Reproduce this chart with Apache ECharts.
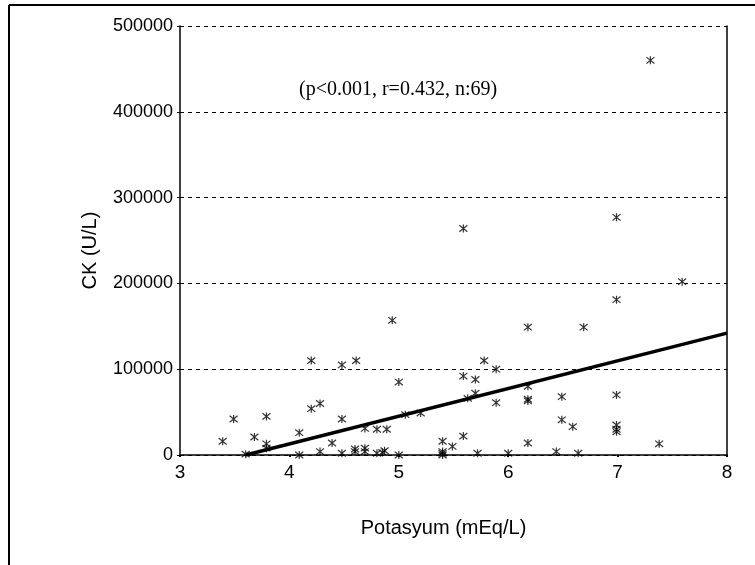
<!DOCTYPE html>
<html>
<head>
<meta charset="utf-8">
<script src="https://cdn.jsdelivr.net/npm/echarts@6/dist/echarts.min.js"></script>
<style>
html,body{margin:0;padding:0;background:#fff;}
#chart{width:755px;height:565px;}
</style>
</head>
<body>
<div id="chart"></div>
<script>
// Potassium (mEq/L) values
var potassium = [
  4.20, 4.48, 4.61, 5.00, 5.78, 5.89, 5.59, 5.70, 6.18, 6.99,
  6.49, 6.18, 6.18, 5.89, 5.70, 5.63, 5.20, 5.06, 3.49, 3.79,
  4.20, 4.28, 4.48, 4.69, 4.80, 4.89, 3.39, 3.68, 3.79, 3.79,
  4.09, 4.39, 4.28, 3.60, 4.09, 4.48, 4.60, 4.60, 4.69, 4.69,
  4.80, 4.85, 4.87, 5.00, 5.40, 5.40, 5.40, 5.49, 5.59, 5.72,
  6.00, 6.18, 6.44, 6.49, 6.59, 6.99, 6.99, 6.64, 7.38, 5.59,
  6.99, 7.59, 6.99, 4.94, 6.18, 6.69, 7.30, 6.99, 5.40
];
// CK (U/L) values
var ck = [
  110000, 105000, 110000, 85000, 110000, 100000, 92000, 88000, 80000, 70000,
  68000, 65000, 63000, 61000, 72000, 66000, 49000, 47000, 42000, 45000,
  54000, 60000, 42000, 31000, 30000, 30000, 16000, 21000, 13000, 8000,
  26000, 14000, 4000, 1000, 0, 2000, 7000, 4000, 8000, 4000,
  2000, 3000, 5000, 0, 16000, 4000, 2000, 10000, 22000, 2000,
  2000, 14000, 4000, 41000, 33000, 35000, 27000, 2000, 13000, 264000,
  277000, 202000, 181000, 157000, 149000, 149000, 460000, 30000, 0
];
// regression line end points [potassium, CK]
var fitX = [3.6, 8];
var fitY = [0, 142000];
var xTicks = [3, 4, 5, 6, 7, 8];
var yTicks = [0, 100000, 200000, 300000, 400000, 500000];
var annotation = '(p<0.001, r=0.432, n:69)';

var pts = potassium.map(function (x, i) { return [x, ck[i]]; });
var fit = fitX.map(function (x, i) { return [x, fitY[i]]; });

var chart = echarts.init(document.getElementById('chart'), null, {renderer: 'canvas'});
var starPath = 'path://M-1,-1L1,1M-1,1L1,-1M0,-1.25L0,1.25';
var sans = 'Liberation Sans, Arial, sans-serif';

chart.setOption({
  animation: false,
  backgroundColor: '#fff',
  grid: {left: 180, top: 26, right: 28, bottom: 110, containLabel: false},
  xAxis: {
    type: 'value', min: xTicks[0], max: xTicks[xTicks.length - 1], interval: 1,
    name: 'Potasyum (mEq/L)', nameLocation: 'middle', nameGap: 63,
    nameTextStyle: {fontFamily: sans, fontSize: 20, color: '#000', padding: [0, 20, 0, 0]},
    axisLine: {lineStyle: {color: '#000', width: 1.5}},
    axisTick: {show: true, length: 2, lineStyle: {color: '#000', width: 2}},
    axisLabel: {fontFamily: sans, fontSize: 19, color: '#000', margin: 8},
    splitLine: {show: false}
  },
  yAxis: [{
    type: 'value', min: yTicks[0], max: yTicks[yTicks.length - 1], interval: 100000,
    name: 'CK (U/L)', nameLocation: 'middle', nameGap: 80, nameRotate: 90,
    nameMoveOverlap: false,
    nameTextStyle: {fontFamily: sans, fontSize: 20, color: '#000', padding: [0, 20, 0, 0]},
    axisLine: {show: true, lineStyle: {color: '#000', width: 1.5}},
    axisTick: {show: true, length: 3, lineStyle: {color: '#000'}},
    axisLabel: {fontFamily: sans, fontSize: 18, color: '#000', margin: 7,
      padding: [0, 0, 4, 0],
      formatter: function (v) { return String(v); }},
    splitLine: {show: true, lineStyle: {color: '#000', width: 1, type: [4, 4]}}
  }, {
    type: 'value', min: yTicks[0], max: yTicks[yTicks.length - 1], interval: 100000,
    position: 'right',
    axisLine: {show: true, lineStyle: {color: '#000', width: 1.5}},
    axisTick: {show: false}, axisLabel: {show: false}, splitLine: {show: false}
  }],
  series: [{
    type: 'scatter', data: pts, symbol: starPath, symbolSize: 8,
    itemStyle: {color: 'rgba(0,0,0,0)', borderColor: '#000', borderWidth: 1.2},
    z: 3
  }, {
    type: 'line', data: fit, symbol: 'none',
    lineStyle: {color: '#000', width: 3.5}, z: 4
  }],
  graphic: [
    {type: 'line', shape: {x1: 9, y1: 5, x2: 755, y2: 5}, style: {stroke: '#000', lineWidth: 2}},
    {type: 'line', shape: {x1: 9, y1: 5, x2: 9, y2: 565}, style: {stroke: '#000', lineWidth: 2}},
    {type: 'text', left: 299, top: 80,
     style: {text: annotation, fontFamily: 'Liberation Serif, Times New Roman, serif', fontSize: 20, fill: '#000'}}
  ]
});
</script>
</body>
</html>
